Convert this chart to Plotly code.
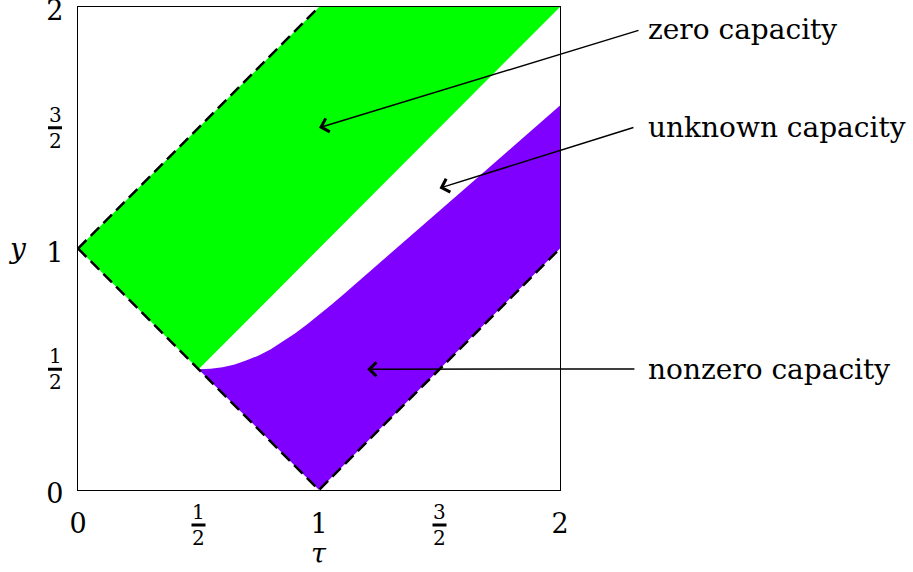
import plotly.graph_objects as go

# Axis ticks
INT_TICKS = [0, 1, 2]
INT_LABELS = ["0", "1", "2"]
FRAC_TICKS = [0.5, 1.5]
FRAC_NUM = ["1", "3"]
FRAC_DEN = ["2", "2"]

# Dashed boundary lines
upper_dash_tau = [0, 1]
upper_dash_y = [1, 2]
lower_dash_tau = [0, 1, 2]
lower_dash_y = [1, 0, 1]

# Zero-capacity region (polygon corners)
zero_tau = [0, 1, 2, 0.5, 0]
zero_y = [1, 2, 2, 0.5, 1]

# Nonzero-capacity region: lower edge and upper achievability curve
nonzero_low_tau = [0.5, 1, 2]
nonzero_low_y = [0.5, 0, 1]
curve_tau = [0.5, 0.55, 0.6, 0.65, 0.7, 0.75, 0.8, 0.85, 0.9, 0.95, 1.0, 1.05,
             1.1, 1.2, 1.3, 1.4, 1.5, 1.6, 1.7, 1.8, 1.9, 2.0]
curve_y = [0.5, 0.502, 0.508, 0.52, 0.537, 0.557, 0.583, 0.614, 0.648, 0.685, 0.724, 0.766,
           0.809, 0.895, 0.982, 1.068, 1.155, 1.243, 1.33, 1.418, 1.505, 1.592]

# Region labels: text, arrow tip (tau, y), arrow tail (tau, y), text anchor (tau, y)
LABELS = ["zero capacity", "unknown capacity", "nonzero capacity"]
TIP_TAU = [1.0, 1.5, 1.2]
TIP_Y = [1.5, 1.25, 0.5]
TAIL_TAU = [2.332, 2.311, 2.315]
TAIL_Y = [1.905, 1.503, 0.501]
TEXT_TAU = [2.355, 2.355, 2.355]
TEXT_Y = [1.905, 1.503, 0.501]

TAU_MAX = 2.0
Y_MAX = 2.0

GREEN = "#00ff00"
PURPLE = "#7f00ff"
FONT = "DejaVu Serif"

fig = go.Figure()

fig.add_trace(go.Scatter(x=zero_tau, y=zero_y, mode="lines", fill="toself",
                         fillcolor=GREEN, line=dict(width=0, color=GREEN),
                         hoverinfo="skip"))
fig.add_trace(go.Scatter(x=nonzero_low_tau, y=nonzero_low_y, mode="lines",
                         line=dict(width=0, color=PURPLE), hoverinfo="skip"))
fig.add_trace(go.Scatter(x=curve_tau, y=curve_y, mode="lines", fill="tonexty",
                         fillcolor=PURPLE, line=dict(width=0, color=PURPLE),
                         hoverinfo="skip"))
for tx, ty in [(upper_dash_tau, upper_dash_y), (lower_dash_tau, lower_dash_y)]:
    fig.add_trace(go.Scatter(x=tx, y=ty, mode="lines",
                             line=dict(color="black", width=2.5, dash="12px,6px"),
                             hoverinfo="skip"))

axis_common = dict(showgrid=False, zeroline=False, showline=True, automargin=False,
                   linecolor="black", linewidth=1.2, mirror=True, ticks="",
                   tickvals=INT_TICKS, ticktext=INT_LABELS, ticklabeloverflow="allow",
                   tickfont=dict(family=FONT, size=27, color="black"))
fig.update_xaxes(**axis_common, range=[0, TAU_MAX], ticklabelstandoff=9)
fig.update_yaxes(**axis_common, range=[0, Y_MAX], ticklabelstandoff=8, ticklabelshift=4)

shapes = []
annotations = []
for v, num, den in zip(FRAC_TICKS, FRAC_NUM, FRAC_DEN):
    # fraction on the tau axis
    annotations.append(dict(x=v, y=0, xref="x", yref="paper", yshift=-35,
                            text=f"{num}<br>{den}", showarrow=False,
                            xanchor="center", yanchor="middle",
                            font=dict(family=FONT, size=20, color="black")))
    shapes.append(dict(type="line", xref="x", yref="paper",
                       xsizemode="pixel", xanchor=v, x0=-7, x1=7,
                       ysizemode="pixel", yanchor=0, y0=-35, y1=-35,
                       line=dict(color="black", width=3)))
    # fraction on the y axis
    annotations.append(dict(x=0, y=v, xref="paper", yref="y", xshift=-23,
                            text=f"{num}<br>{den}", showarrow=False,
                            xanchor="center", yanchor="middle",
                            font=dict(family=FONT, size=20, color="black")))
    shapes.append(dict(type="line", xref="paper", yref="y", y0=v, y1=v,
                       xsizemode="pixel", xanchor=0, x0=-30, x1=-16,
                       line=dict(color="black", width=3)))

# axis labels
annotations.append(dict(x=0.5, y=0, xref="paper", yref="paper", yshift=-63,
                        text="<i>τ</i>", showarrow=False, xanchor="center", yanchor="middle",
                        font=dict(family=FONT, size=27, color="black")))
annotations.append(dict(x=0, y=0.5, xref="paper", yref="paper", xshift=-61,
                        text="<i>y</i>", showarrow=False, xanchor="center", yanchor="middle",
                        font=dict(family=FONT, size=28, color="black")))

# region labels with arrows
for lab, tt, ty, at, ay, xt, yt in zip(LABELS, TIP_TAU, TIP_Y, TAIL_TAU, TAIL_Y, TEXT_TAU, TEXT_Y):
    annotations.append(dict(x=tt, y=ty, xref="x", yref="y", ax=at, ay=ay,
                            axref="x", ayref="y", text="", showarrow=True,
                            arrowhead=4, arrowsize=1.8, arrowwidth=1.5, arrowcolor="black"))
    annotations.append(dict(x=xt / TAU_MAX, y=yt / Y_MAX, xref="paper", yref="paper",
                            text=lab, showarrow=False, xanchor="left", yanchor="middle",
                            font=dict(family=FONT, size=28, color="black")))

fig.update_layout(width=913, height=572, margin=dict(l=78, r=353, t=7, b=82),
                  plot_bgcolor="white", paper_bgcolor="white", showlegend=False,
                  shapes=shapes, annotations=annotations)

fig.write_html("out.html")
